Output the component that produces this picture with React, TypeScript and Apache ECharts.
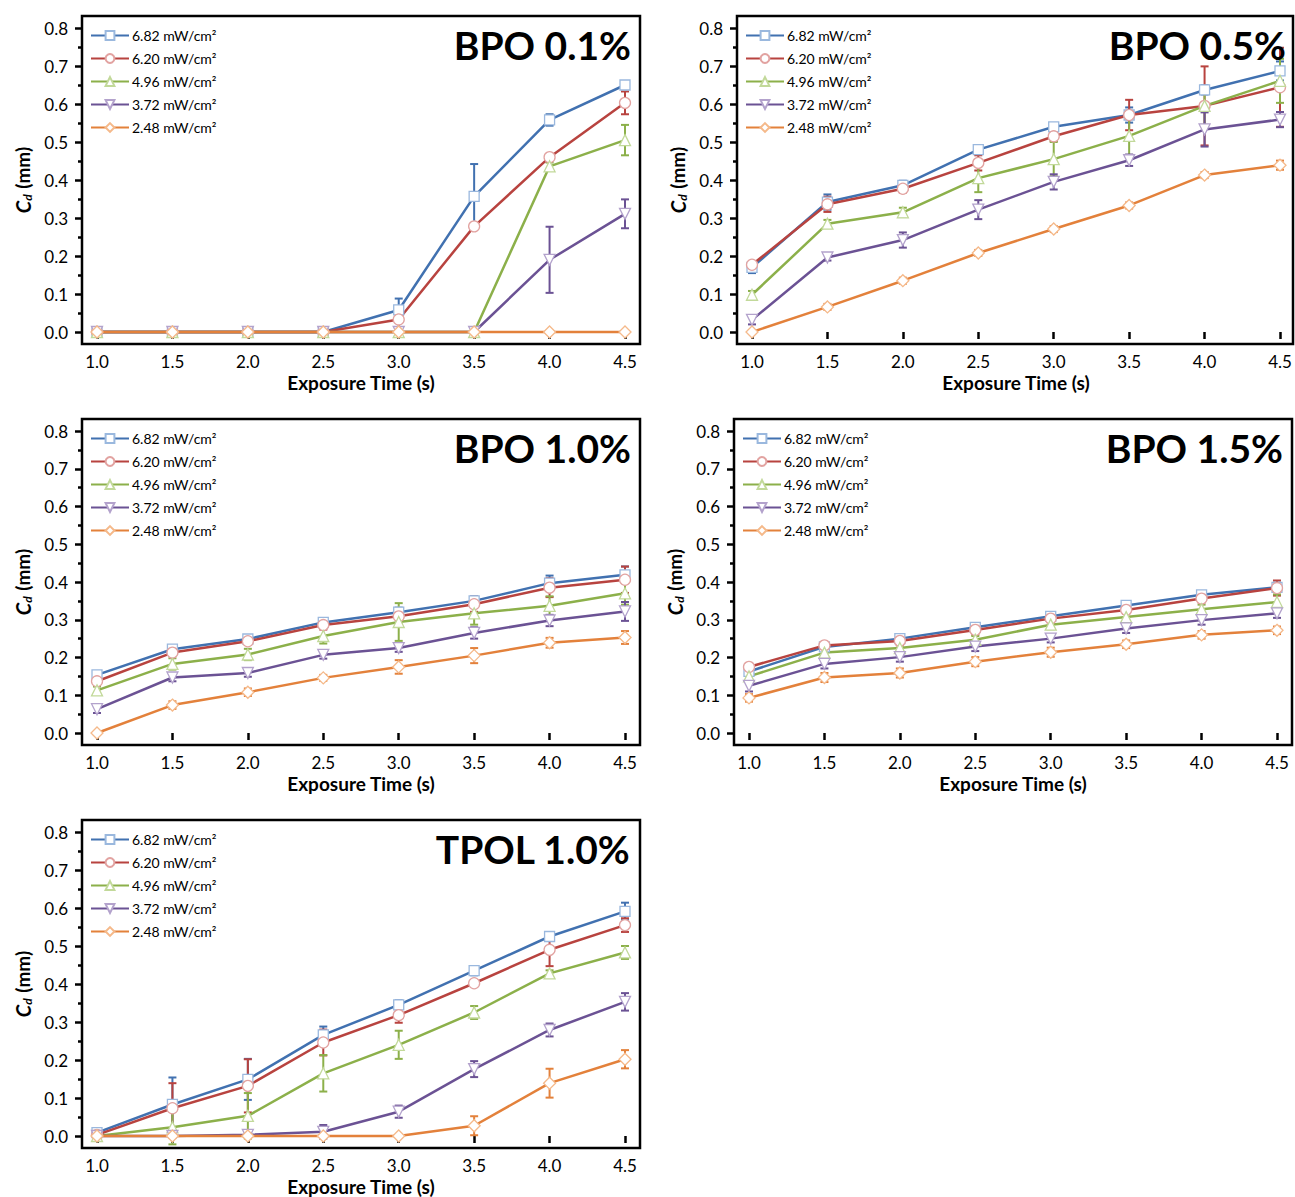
import React, { useEffect, useRef } from "react";
import * as echarts from "echarts";

const TIMES = [1.0, 1.5, 2.0, 2.5, 3.0, 3.5, 4.0, 4.5];
const INTENSITIES = ["6.82", "6.20", "4.96", "3.72", "2.48"];
const PANEL_TITLES = ["BPO 0.1%", "BPO 0.5%", "BPO 1.0%", "BPO 1.5%", "TPOL 1.0%"];
const Y_TICKS = [0, 0.1, 0.2, 0.3, 0.4, 0.5, 0.6, 0.7, 0.8];

const bpo01Mean = [
  [0, 0, 0, 0, 0.058, 0.357, 0.558, 0.65],
  [0, 0, 0, 0, 0.033, 0.278, 0.46, 0.603],
  [0, 0, 0, 0, 0, 0, 0.436, 0.505],
  [0, 0, 0, 0, 0, 0, 0.19, 0.311],
  [0, 0, 0, 0, 0, 0, 0, 0],
];
const bpo01Err = [
  [0, 0, 0, 0, 0.03, 0.085, 0.015, 0.01],
  [0, 0, 0, 0, 0.032, 0.008, 0.008, 0.03],
  [0, 0, 0, 0, 0, 0, 0.01, 0.04],
  [0, 0, 0, 0, 0, 0, 0.087, 0.038],
  [0, 0, 0, 0, 0, 0, 0, 0],
];

const bpo05Mean = [
  [0.17, 0.342, 0.386, 0.48, 0.54, 0.571, 0.637, 0.687],
  [0.177, 0.336, 0.377, 0.445, 0.515, 0.571, 0.595, 0.644],
  [0.098, 0.285, 0.315, 0.405, 0.455, 0.516, 0.595, 0.661],
  [0.032, 0.196, 0.242, 0.322, 0.395, 0.452, 0.533, 0.559],
  [0.0, 0.066, 0.135, 0.208, 0.271, 0.333, 0.413, 0.439],
];
const bpo05Err = [
  [0.015, 0.02, 0.012, 0.01, 0.01, 0.02, 0.012, 0.025],
  [0.01, 0.02, 0.01, 0.02, 0.012, 0.04, 0.104, 0.104],
  [0.01, 0.01, 0.012, 0.037, 0.045, 0.05, 0.05, 0.058],
  [0.012, 0.008, 0.02, 0.025, 0.02, 0.015, 0.045, 0.02],
  [0.005, 0.008, 0.008, 0.008, 0.008, 0.008, 0.008, 0.012],
];

const bpo10Mean = [
  [0.154, 0.222, 0.249, 0.293, 0.32, 0.35, 0.397, 0.419],
  [0.137, 0.213, 0.243, 0.286, 0.309, 0.341, 0.385, 0.406],
  [0.113, 0.183, 0.208, 0.257, 0.294, 0.317, 0.337, 0.37],
  [0.063, 0.147, 0.159, 0.207, 0.225, 0.265, 0.298, 0.322],
  [0.0, 0.074, 0.108, 0.146, 0.175, 0.205, 0.239, 0.253],
];
const bpo10Err = [
  [0.01, 0.006, 0.006, 0.006, 0.012, 0.012, 0.02, 0.022],
  [0.01, 0.008, 0.008, 0.012, 0.02, 0.02, 0.025, 0.035],
  [0.01, 0.015, 0.015, 0.02, 0.05, 0.03, 0.025, 0.03],
  [0.01, 0.01, 0.01, 0.01, 0.01, 0.015, 0.015, 0.025],
  [0.005, 0.01, 0.01, 0.008, 0.018, 0.02, 0.013, 0.017],
];

const bpo15Mean = [
  [0.163, 0.228, 0.25, 0.28, 0.309, 0.338, 0.366, 0.386],
  [0.175, 0.232, 0.244, 0.273, 0.303, 0.326, 0.356, 0.384],
  [0.15, 0.213, 0.225, 0.247, 0.287, 0.307, 0.328, 0.347],
  [0.125, 0.183, 0.201, 0.229, 0.25, 0.277, 0.299, 0.317],
  [0.093, 0.147, 0.159, 0.189, 0.214, 0.235, 0.26, 0.272],
];
const bpo15Err = [
  [0.01, 0.008, 0.008, 0.008, 0.008, 0.008, 0.01, 0.012],
  [0.01, 0.008, 0.012, 0.012, 0.01, 0.01, 0.01, 0.02],
  [0.01, 0.012, 0.01, 0.01, 0.012, 0.01, 0.012, 0.02],
  [0.015, 0.012, 0.012, 0.012, 0.01, 0.012, 0.012, 0.012],
  [0.01, 0.012, 0.012, 0.012, 0.012, 0.01, 0.01, 0.01],
];

const tpolMean = [
  [0.009, 0.083, 0.149, 0.266, 0.345, 0.435, 0.525, 0.591],
  [0.003, 0.073, 0.132, 0.246, 0.318, 0.402, 0.49, 0.555],
  [0.0, 0.023, 0.053, 0.165, 0.24, 0.325, 0.428, 0.483],
  [0.0, 0.0, 0.003, 0.011, 0.064, 0.176, 0.279, 0.353],
  [0.0, 0.0, 0.0, 0.0, 0.0, 0.027, 0.139, 0.202],
];
const tpolErr = [
  [0.01, 0.071, 0.054, 0.022, 0.012, 0.012, 0.01, 0.023],
  [0.005, 0.066, 0.07, 0.034, 0.02, 0.008, 0.043, 0.018],
  [0.005, 0.045, 0.06, 0.048, 0.037, 0.017, 0.008, 0.017],
  [0, 0.005, 0.005, 0.018, 0.016, 0.021, 0.017, 0.023],
  [0, 0, 0, 0, 0, 0.025, 0.038, 0.024],
];

const PANEL_MEANS = [bpo01Mean, bpo05Mean, bpo10Mean, bpo15Mean, tpolMean];
const PANEL_ERRS = [bpo01Err, bpo05Err, bpo10Err, bpo15Err, tpolErr];

const LINE_COLORS = ["#4171b0", "#b8433f", "#8cb04a", "#6b5294", "#e3813b"];
const MARK_COLORS = ["#9ab8de", "#e2a3a1", "#c2d99a", "#b3a2cc", "#f5b98a"];
const SYMBOLS = [
  "rect",
  "circle",
  "triangle",
  "path://M0,0 L10,0 L5,9 Z",
  "diamond",
];
const SYMBOL_SIZES = [10, 11, 11, 11, 12];

const W = 1295;
const H = 1197;
// data-region geometry of each panel: [left, top, width, height]
const GRIDS = [
  [97, 28, 528, 304],
  [752, 28, 528, 304],
  [97, 431, 528, 302],
  [749, 431, 528, 302],
  [97, 832, 528, 304],
];
const FONT = "Lato, 'Open Sans', sans-serif";

function buildOption() {
  const grid: any[] = [];
  const xAxis: any[] = [];
  const yAxis: any[] = [];
  const series: any[] = [];
  const legend: any[] = [];
  const title: any[] = [];
  const graphic: any[] = [];

  GRIDS.forEach((g, p) => {
    const [left, top, width, height] = g;
    grid.push({ left, top, width, height, containLabel: false });
    xAxis.push({
      type: "value",
      gridIndex: p,
      min: 1,
      max: 4.5,
      interval: 0.5,
      offset: 12,
      axisLine: { show: false },
      axisTick: { show: true, length: 7, lineStyle: { color: "#000", width: 2.5 } },
      splitLine: { show: false },
      axisLabel: {
        color: "#000",
        fontFamily: FONT,
        fontSize: 17,
        margin: 9,
        formatter: (v: number) => v.toFixed(1),
      },
      name: "Exposure Time (s)",
      nameLocation: "middle",
      nameGap: 29,
      nameTextStyle: { color: "#000", fontFamily: FONT, fontSize: 19, fontWeight: "bold" },
    });
    yAxis.push({
      type: "value",
      gridIndex: p,
      min: Y_TICKS[0],
      max: Y_TICKS[Y_TICKS.length - 1],
      interval: 0.1,
      offset: 15,
      axisLine: { show: false },
      axisTick: { show: true, length: 7, lineStyle: { color: "#000", width: 2.5 } },
      minorTick: { show: true, splitNumber: 2, length: 4, lineStyle: { color: "#000", width: 2.5 } },
      splitLine: { show: false },
      axisLabel: {
        color: "#000",
        fontFamily: FONT,
        fontSize: 17,
        margin: 14,
        formatter: (v: number) => v.toFixed(1),
      },
      name: "{c|C}{d|d} (mm)",
      nameLocation: "middle",
      nameGap: 49,
      nameTextStyle: {
        color: "#000",
        fontFamily: FONT,
        fontSize: 19,
        fontWeight: "bold",
        rich: {
          c: { fontFamily: FONT, fontSize: 20, fontWeight: "bold", fontStyle: "italic", color: "#000" },
          d: {
            fontFamily: FONT,
            fontSize: 12,
            fontWeight: "bold",
            fontStyle: "italic",
            color: "#000",
            padding: [9, 1, 0, 0],
          },
        },
      },
    });

    const means = PANEL_MEANS[p];
    const errs = PANEL_ERRS[p];
    INTENSITIES.forEach((name, s) => {
      const errData: number[][] = [];
      TIMES.forEach((t, i) => {
        const e = errs[s][i];
        if (e > 0) errData.push([t, means[s][i] - e, means[s][i] + e]);
      });
      const color = LINE_COLORS[s];
      series.push({
        type: "custom",
        name: name + "-err",
        xAxisIndex: p,
        yAxisIndex: p,
        z: 2,
        clip: false,
        silent: true,
        data: errData,
        encode: { x: 0, y: [1, 2] },
        renderItem: (params: any, api: any) => {
          const x = api.value(0);
          const lo = api.coord([x, api.value(1)]);
          const hi = api.coord([x, api.value(2)]);
          const cap = 4;
          const st = { stroke: color, lineWidth: 2 };
          return {
            type: "group",
            children: [
              { type: "line", shape: { x1: lo[0], y1: lo[1], x2: hi[0], y2: hi[1] }, style: st },
              { type: "line", shape: { x1: lo[0] - cap, y1: lo[1], x2: lo[0] + cap, y2: lo[1] }, style: st },
              { type: "line", shape: { x1: hi[0] - cap, y1: hi[1], x2: hi[0] + cap, y2: hi[1] }, style: st },
            ],
          };
        },
      });
      series.push({
        type: "line",
        name,
        xAxisIndex: p,
        yAxisIndex: p,
        z: 3,
        clip: false,
        data: TIMES.map((t, i) => [t, means[s][i]]),
        symbol: SYMBOLS[s],
        symbolSize: SYMBOL_SIZES[s],
        showAllSymbol: true,
        lineStyle: { color, width: 2.5 },
        itemStyle: { color: "#ffffff", borderColor: MARK_COLORS[s], borderWidth: 1.3 },
        emphasis: { disabled: true },
      });
    });

    legend.push({
      orient: "vertical",
      left: left - 7,
      top: top,
      data: INTENSITIES,
      selectedMode: false,
      itemWidth: 38,
      itemHeight: 11,
      itemGap: 8,
      padding: 0,
      formatter: (n: string) => n + " mW/cm²",
      textStyle: { color: "#000", fontFamily: FONT, fontSize: 14, lineHeight: 15, padding: [0, 0, 0, -2] },
    });

    title.push({
      text: PANEL_TITLES[p],
      right: W - (left + width) - 6,
      top: top - 3,
      padding: 0,
      textStyle: { color: "#000", fontFamily: FONT, fontSize: 39, fontWeight: "bold" },
    });

    const fx = left - 15;
    const fy = top - 12;
    const fr = Math.min(left + width + 15, W - 2);
    graphic.push({
      type: "rect",
      silent: true,
      z: 100,
      shape: { x: fx, y: fy, width: fr - fx, height: height + 24 },
      style: { fill: "none", stroke: "#000", lineWidth: 2.5 },
    });
  });

  return {
    animation: false,
    backgroundColor: "#ffffff",
    grid,
    xAxis,
    yAxis,
    series,
    legend,
    title,
    graphic,
  };
}

export default function App() {
  const ref = useRef<HTMLDivElement>(null);
  useEffect(() => {
    document.body.style.margin = "0";
    if (!ref.current) return;
    const chart = echarts.init(ref.current, undefined, { renderer: "svg" });
    chart.setOption(buildOption() as any);
    return () => chart.dispose();
  }, []);
  return <div ref={ref} style={{ width: W, height: H }} />;
}
